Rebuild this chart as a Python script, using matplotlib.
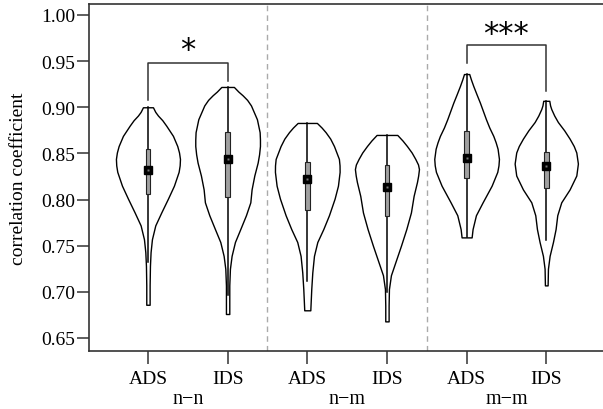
import matplotlib.pyplot as plt

plt.rcParams['font.family'] = ['Liberation Serif', 'DejaVu Serif']

positions = [1, 2, 3, 4, 5, 6]
tick_labels = ['ADS', 'IDS', 'ADS', 'IDS', 'ADS', 'IDS']
groups = ['n\u2212n', 'n\u2212m', 'm\u2212m']
yticks = [0.65, 0.70, 0.75, 0.80, 0.85, 0.90, 0.95, 1.00]

# violin outlines: y value and half width (x units)
v1_y = [0.900, 0.895, 0.891, 0.886, 0.880, 0.869, 0.858, 0.851, 0.844, 0.837, 0.830,
        0.815, 0.801, 0.786, 0.772, 0.757, 0.743, 0.728, 0.707, 0.686]
v1_w = [0.063, 0.092, 0.126, 0.180, 0.230, 0.314, 0.368, 0.390, 0.402, 0.398, 0.385,
        0.326, 0.251, 0.167, 0.092, 0.050, 0.033, 0.025, 0.021, 0.021]
v2_y = [0.922, 0.917, 0.913, 0.908, 0.902, 0.887, 0.873, 0.865, 0.858, 0.849, 0.840,
        0.826, 0.811, 0.797, 0.783, 0.768, 0.754, 0.739, 0.725, 0.707, 0.676]
v2_w = [0.079, 0.135, 0.188, 0.245, 0.293, 0.368, 0.402, 0.406, 0.406, 0.395, 0.377,
        0.335, 0.301, 0.285, 0.230, 0.159, 0.092, 0.050, 0.029, 0.021, 0.021]
v3_y = [0.883, 0.878, 0.873, 0.866, 0.858, 0.844, 0.837, 0.830, 0.815, 0.801, 0.783,
        0.768, 0.754, 0.739, 0.721, 0.703, 0.680]
v3_w = [0.121, 0.180, 0.230, 0.288, 0.335, 0.397, 0.405, 0.406, 0.385, 0.343, 0.272,
        0.201, 0.126, 0.084, 0.063, 0.050, 0.038]
v4_y = [0.870, 0.864, 0.858, 0.851, 0.844, 0.838, 0.833, 0.826, 0.819, 0.804, 0.786,
        0.768, 0.750, 0.732, 0.718, 0.703, 0.685, 0.668]
v4_w = [0.130, 0.195, 0.251, 0.310, 0.356, 0.390, 0.402, 0.392, 0.377, 0.335, 0.301,
        0.243, 0.176, 0.105, 0.050, 0.025, 0.021, 0.021]
v5_y = [0.936, 0.930, 0.923, 0.914, 0.905, 0.896, 0.887, 0.878, 0.869, 0.862, 0.855,
        0.844, 0.837, 0.830, 0.815, 0.797, 0.783, 0.768, 0.759]
v5_w = [0.033, 0.055, 0.084, 0.125, 0.167, 0.205, 0.243, 0.285, 0.335, 0.365, 0.389,
        0.406, 0.400, 0.385, 0.314, 0.201, 0.117, 0.075, 0.063]
v6_y = [0.907, 0.902, 0.898, 0.891, 0.884, 0.875, 0.866, 0.858, 0.851, 0.839, 0.826,
        0.811, 0.797, 0.783, 0.768, 0.754, 0.739, 0.725, 0.707]
v6_w = [0.038, 0.048, 0.063, 0.100, 0.146, 0.225, 0.293, 0.345, 0.377, 0.397, 0.377,
        0.293, 0.188, 0.138, 0.117, 0.084, 0.042, 0.021, 0.017]
violin_y = [v1_y, v2_y, v3_y, v4_y, v5_y, v6_y]
violin_w = [v1_w, v2_w, v3_w, v4_w, v5_w, v6_w]

q1 = [0.806, 0.8025, 0.789, 0.782, 0.823, 0.813]
q3 = [0.855, 0.8735, 0.841, 0.8375, 0.874, 0.851]
medians = [0.832, 0.844, 0.822, 0.814, 0.845, 0.836]
whisk_lo = [0.732, 0.697, 0.712, 0.700, 0.759, 0.7565]
whisk_hi = [0.900, 0.922, 0.883, 0.870, 0.936, 0.907]

# significance brackets: (left pos, right pos, top, left leg end, right leg end, label, label y)
brackets = [(1, 2, 0.948, 0.908, 0.928, '*', 0.947),
            (5, 6, 0.968, 0.948, 0.918, '***', 0.964)]

fig = plt.figure(figsize=(6.03, 4.10), dpi=100)
ax = fig.add_axes([89 / 603, 58 / 410, 521 / 603, 347 / 410])

for p, ys, ws in zip(positions, violin_y, violin_w):
    left = [p - w for w in ws]
    right = [p + w for w in ws]
    ax.fill_betweenx(ys, left, right, facecolor='white', edgecolor='black',
                     linewidth=1.0, zorder=2)

for i, p in enumerate(positions):
    ax.plot([p, p], [whisk_lo[i], whisk_hi[i]], color='black', lw=1.1, zorder=3)
    ax.add_patch(plt.Rectangle((p - 0.03, q1[i]), 0.06, q3[i] - q1[i],
                               facecolor='#a0a0a0', edgecolor='#222222',
                               lw=0.8, zorder=4))
    ax.plot(p, medians[i], marker='s', ms=6, color='black', zorder=5)
    ax.plot(p, medians[i], marker='s', ms=1.5, color='#777777', mec='none', zorder=6)

for x in [2.5, 4.5]:
    ax.axvline(x, color='#aaaaaa', lw=1.0, ls=(0, (4, 3)), zorder=1)

for l, r, top, yl, yr, lab, ly in brackets:
    ax.plot([l, l, r, r], [yl, top, top, yr], color='#333333', lw=1.1)
    ax.text((l + r) / 2, ly, lab, ha='center', va='bottom',
            fontsize=22, family='DejaVu Sans')

ax.set_xlim(0.26, 6.80)
ax.set_ylim(0.6359, 1.0119)
ax.set_yticks(yticks)
ax.set_yticklabels(['%.2f' % v for v in yticks])
ax.set_xticks(positions)
ax.set_xticklabels(tick_labels)
ax.tick_params(axis='both', length=9, width=1.1, color='#333333', labelsize=14)
ax.tick_params(axis='y', pad=1)
ax.tick_params(axis='x', pad=5)
for s in ax.spines.values():
    s.set_color('#333333')
    s.set_linewidth(1.2)

for k, g in enumerate(groups):
    ax.text(positions[2 * k] + 0.5, -0.138, g, transform=ax.get_xaxis_transform(),
            ha='center', va='center', fontsize=14.5)

ax.set_ylabel('correlation coefficient', fontsize=14, labelpad=10)

fig.savefig('out.png', dpi=100)
